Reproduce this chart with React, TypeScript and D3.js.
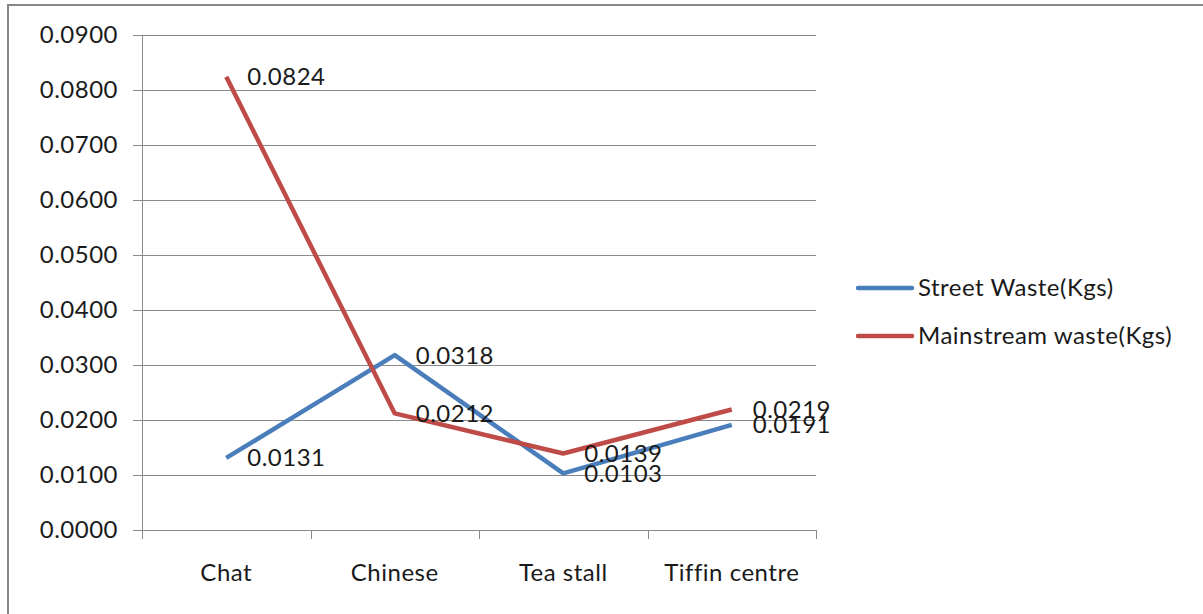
import React, { useEffect, useRef } from "react";
import * as d3 from "d3";

const categories = ["Chat", "Chinese", "Tea stall", "Tiffin centre"];
const streetWaste = [0.0131, 0.0318, 0.0103, 0.0191];
const mainstreamWaste = [0.0824, 0.0212, 0.0139, 0.0219];
const yTicks = [0, 0.01, 0.02, 0.03, 0.04, 0.05, 0.06, 0.07, 0.08, 0.09];
const seriesNames = ["Street Waste(Kgs)", "Mainstream waste(Kgs)"];
const seriesColors = ["#4A7EBB", "#BE4B48"];

const W = 1203;
const H = 614;
const FONT = "Lato, 'Open Sans', sans-serif";
const FS = 24;
const LS = 0.5;

export default function App() {
  const ref = useRef<SVGSVGElement | null>(null);

  useEffect(() => {
    const svg = d3.select(ref.current);
    svg.selectAll("*").remove();

    const plot = { left: 142, right: 816, top: 35, bottom: 530 };

    // chart frame (runs off the right and bottom edges)
    svg
      .append("rect")
      .attr("x", 8)
      .attr("y", 5)
      .attr("width", W + 20)
      .attr("height", H + 20)
      .attr("fill", "#fff")
      .attr("stroke", "#878787")
      .attr("stroke-width", 2);

    const x = d3
      .scaleBand<string>()
      .domain(categories)
      .range([plot.left, plot.right])
      .paddingInner(0)
      .paddingOuter(0);
    const y = d3.scaleLinear().domain([0, 0.09]).range([plot.bottom, plot.top]);
    const cx = (c: string) => (x(c) as number) + x.bandwidth() / 2;

    const grid = svg.append("g");
    // horizontal gridlines with left tick stubs
    yTicks.forEach((t) => {
      grid
        .append("line")
        .attr("x1", plot.left - 9)
        .attr("x2", plot.right)
        .attr("y1", Math.round(y(t)) + 0.5)
        .attr("y2", Math.round(y(t)) + 0.5)
        .attr("stroke", "#8a8a8a")
        .attr("stroke-width", 1);
      grid
        .append("text")
        .attr("x", plot.left - 24)
        .attr("y", y(t))
        .attr("dy", "0.35em")
        .attr("text-anchor", "end")
        .attr("font-family", FONT)
        .attr("font-size", FS)
        .attr("letter-spacing", LS)
        .attr("fill", "#1a1a1a")
        .text(d3.format(".4f")(t));
    });

    // vertical axis line
    grid
      .append("line")
      .attr("x1", plot.left + 0.5)
      .attr("x2", plot.left + 0.5)
      .attr("y1", plot.top)
      .attr("y2", plot.bottom + 9)
      .attr("stroke", "#8a8a8a");

    // category boundary ticks
    const bounds = categories.map((c) => x(c) as number).concat([plot.right]);
    bounds.forEach((b) => {
      grid
        .append("line")
        .attr("x1", Math.round(b) + 0.5)
        .attr("x2", Math.round(b) + 0.5)
        .attr("y1", plot.bottom)
        .attr("y2", plot.bottom + 9)
        .attr("stroke", "#8a8a8a");
    });

    categories.forEach((c) => {
      grid
        .append("text")
        .attr("x", cx(c))
        .attr("y", 573)
        .attr("dy", "0.35em")
        .attr("text-anchor", "middle")
        .attr("font-family", FONT)
        .attr("font-size", FS)
        .attr("letter-spacing", LS)
        .attr("fill", "#1a1a1a")
        .text(c);
    });

    const line = d3
      .line<number>()
      .x((_, i) => cx(categories[i]))
      .y((d) => y(d));

    [streetWaste, mainstreamWaste].forEach((series, si) => {
      svg
        .append("path")
        .datum(series)
        .attr("d", line)
        .attr("fill", "none")
        .attr("stroke", seriesColors[si])
        .attr("stroke-width", 4.5)
        .attr("stroke-linejoin", "round");
    });

    [streetWaste, mainstreamWaste].forEach((series) => {
      series.forEach((v, i) => {
        svg
          .append("text")
          .attr("x", cx(categories[i]) + 21)
          .attr("y", y(v))
          .attr("dy", "0.35em")
          .attr("font-family", FONT)
          .attr("font-size", FS)
          .attr("letter-spacing", LS)
          .attr("fill", "#1a1a1a")
          .text(d3.format(".4f")(v));
      });
    });

    // legend
    const legendRows = [288, 336];
    seriesNames.forEach((name, i) => {
      svg
        .append("line")
        .attr("x1", 858)
        .attr("x2", 912)
        .attr("y1", legendRows[i])
        .attr("y2", legendRows[i])
        .attr("stroke", seriesColors[i])
        .attr("stroke-width", 4.5)
        .attr("stroke-linecap", "round");
      svg
        .append("text")
        .attr("x", 918)
        .attr("y", legendRows[i])
        .attr("dy", "0.35em")
        .attr("font-family", FONT)
        .attr("font-size", FS)
        .attr("letter-spacing", LS)
        .attr("fill", "#1a1a1a")
        .text(name);
    });
  }, []);

  return (
    <svg
      ref={ref}
      width={W}
      height={H}
      style={{ position: "absolute", left: 0, top: 0, display: "block" }}
    />
  );
}
